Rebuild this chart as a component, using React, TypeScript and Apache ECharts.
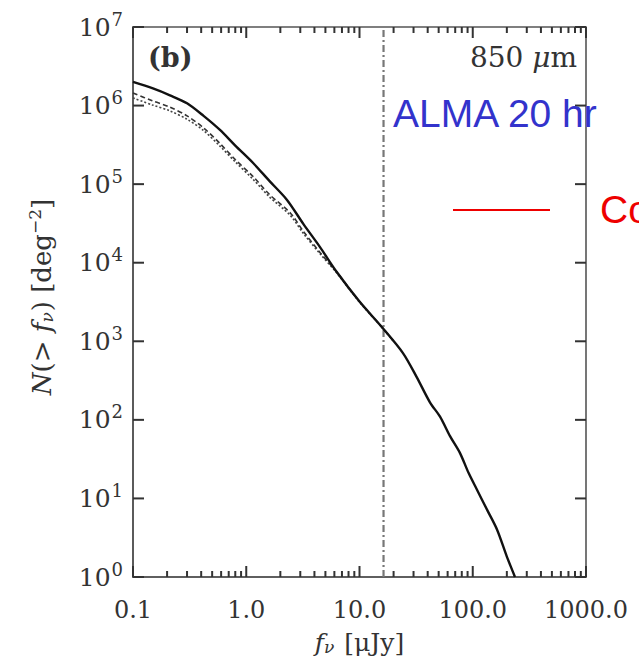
import React, { useEffect, useRef } from "react";
import * as echarts from "echarts";

// x tick labels (by decade exponent -1..3)
const xTickLabels = ["0.1", "1.0", "10.0", "100.0", "1000.0"];
const yExponents = ["0", "1", "2", "3", "4", "5", "6", "7"];

// Solid model curve: [flux μJy, N(>f) deg^-2]
const solidCurve: [number, number][] = [
  [0.1, 2.0e6], [0.15, 1.65e6], [0.212, 1.35e6], [0.3, 1.07e6], [0.42, 7.4e5],
  [0.586, 4.9e5], [0.8, 3.1e5], [1.15, 1.86e5], [1.6, 1.1e5], [2.29, 6.3e4],
  [3.2, 3.1e4], [4.48, 1.58e4], [6.3, 7.6e3], [10, 3.2e3], [15.8, 1.51e3],
  [24.2, 708], [32, 350], [42, 166], [51.4, 110], [63, 62], [77, 38],
  [92, 21], [109, 12.9], [135, 7.0], [164, 4.0], [200, 1.82], [236, 1.0],
];

// Dashed curve
const dashedCurve: [number, number][] = [
  [0.1, 1.45e6], [0.148, 1.15e6], [0.21, 9.6e5], [0.3, 7.4e5], [0.42, 5.2e5],
  [0.586, 3.3e5], [0.8, 2.05e5], [1.15, 1.25e5], [1.6, 7.4e4], [2.45, 4.3e4],
  [3.2, 2.5e4], [4.48, 1.35e4], [6.3, 7.6e3], [10, 3.2e3], [15.8, 1.51e3], [20, 1.0e3],
];

// Dotted curve
const dottedCurve: [number, number][] = [
  [0.1, 1.25e6], [0.148, 1.02e6], [0.21, 8.6e5], [0.3, 6.7e5], [0.42, 4.8e5],
  [0.586, 3.05e5], [0.8, 1.92e5], [1.15, 1.15e5], [1.6, 6.9e4], [2.45, 4.0e4],
  [3.2, 2.35e4], [4.48, 1.3e4], [6.3, 7.4e3], [10, 3.15e3], [15.8, 1.5e3], [20, 1.0e3],
];

// ALMA 20 hr detection limit (μJy)
const almaLimit = 16.3;

const xMin = 0.1;
const xMax = 1000;
const yMin = 1;
const yMax = 1e7;

const majorTickValues = [0.1, 1, 10, 100, 1000];
const yMajorTickValues = [1, 10, 100, 1e3, 1e4, 1e5, 1e6, 1e7];
const minorTickValues: number[] = [];
for (let k = -1; k <= 2; k++) {
  for (let m = 2; m <= 9; m++) minorTickValues.push(m * Math.pow(10, k));
}

const axisColor = "#555";
const tickColor = "#333";
const textColor = "#333";
const serif = "'DejaVu Serif', 'Liberation Serif', serif";
const sans = "'Liberation Sans', Arial, sans-serif";

export default function App() {
  const ref = useRef<HTMLDivElement>(null);

  useEffect(() => {
    if (!ref.current) return;
    const chart = echarts.init(ref.current, null, { renderer: "svg" });

    const xLabel = (v: number) => {
      const e = Math.round(Math.log10(v));
      return xTickLabels[e + 1] ?? "";
    };
    const yLabel = (v: number) => {
      const e = Math.round(Math.log10(v));
      return `{b|10}{s|${yExponents[e] ?? ""}}`;
    };

    // x-axis ticks (bottom and top), drawn through the axis scale
    const xTicks = {
      type: "custom",
      coordinateSystem: "cartesian2d",
      silent: true,
      clip: false,
      z: 20,
      data: [
        ...majorTickValues.map((v) => [v, 11]),
        ...minorTickValues.map((v) => [v, 6]),
      ],
      renderItem: (params: any, api: any) => {
        const v = api.value(0);
        const len = api.value(1);
        const pb = api.coord([v, yMin]);
        const pt = api.coord([v, yMax]);
        return {
          type: "group",
          children: [
            {
              type: "line",
              shape: { x1: pb[0], y1: pb[1], x2: pb[0], y2: pb[1] - len },
              style: { stroke: tickColor, lineWidth: 2 },
            },
            {
              type: "line",
              shape: { x1: pt[0], y1: pt[1], x2: pt[0], y2: pt[1] + len },
              style: { stroke: tickColor, lineWidth: 2 },
            },
          ],
        };
      },
    };

    // y-axis ticks (left and right)
    const yTicks = {
      type: "custom",
      coordinateSystem: "cartesian2d",
      silent: true,
      clip: false,
      z: 20,
      data: yMajorTickValues.map((v) => [xMin, v]),
      renderItem: (params: any, api: any) => {
        const v = api.value(1);
        const pl = api.coord([xMin, v]);
        const pr = api.coord([xMax, v]);
        return {
          type: "group",
          children: [
            {
              type: "line",
              shape: { x1: pl[0], y1: pl[1], x2: pl[0] + 11, y2: pl[1] },
              style: { stroke: tickColor, lineWidth: 2 },
            },
            {
              type: "line",
              shape: { x1: pr[0], y1: pr[1], x2: pr[0] - 11, y2: pr[1] },
              style: { stroke: tickColor, lineWidth: 2 },
            },
          ],
        };
      },
    };

    const option: any = {
      animation: false,
      backgroundColor: "#fff",
      grid: {
        left: 133,
        right: 53,
        top: 27,
        bottom: 91,
        show: true,
        borderColor: axisColor,
        borderWidth: 1.6,
        backgroundColor: "transparent",
      },
      xAxis: {
        type: "log",
        logBase: 10,
        min: xMin,
        max: xMax,
        axisLine: { show: true, onZero: false, lineStyle: { color: axisColor, width: 1.6 } },
        axisTick: { show: false },
        splitLine: { show: false },
        axisLabel: {
          formatter: xLabel,
          fontFamily: serif,
          fontSize: 24,
          color: textColor,
          margin: 21,
        },
        name: "{i|f}{sub|ν} [μJy]",
        nameLocation: "middle",
        nameGap: 52,
        nameTextStyle: {
          fontFamily: serif,
          fontSize: 25,
          color: textColor,
          rich: {
            i: { fontFamily: serif, fontSize: 25, fontStyle: "italic", color: textColor },
            sub: { fontFamily: serif, fontSize: 17, fontStyle: "italic", color: textColor, padding: [9, 2, 0, 0] },
          },
        },
      },
      yAxis: {
        type: "log",
        logBase: 10,
        min: yMin,
        max: yMax,
        axisLine: { show: true, onZero: false, lineStyle: { color: axisColor, width: 1.6 } },
        axisTick: { show: false },
        splitLine: { show: false },
        axisLabel: {
          formatter: yLabel,
          margin: 10,
          color: textColor,
          rich: {
            b: { fontFamily: serif, fontSize: 25, color: textColor },
            s: { fontFamily: serif, fontSize: 18, color: textColor, padding: [0, 0, 16, 1] },
          },
        },
      },
      series: [
        {
          type: "line",
          data: [[almaLimit, yMin], [almaLimit, yMax]],
          symbol: "none",
          lineStyle: { color: "#777", width: 2.2, type: [7, 3, 2, 3] },
          silent: true,
        },
        {
          type: "line",
          data: dottedCurve,
          symbol: "none",
          smooth: 0.3,
          lineStyle: { color: "#444", width: 1.6, type: [2, 2] },
          silent: true,
        },
        {
          type: "line",
          data: dashedCurve,
          symbol: "none",
          smooth: 0.3,
          lineStyle: { color: "#333", width: 1.6, type: [5, 3] },
          silent: true,
        },
        {
          type: "line",
          data: solidCurve,
          symbol: "none",
          smooth: 0.3,
          lineStyle: { color: "#111", width: 2.4, type: "solid" },
          silent: true,
          z: 5,
        },
        xTicks,
        yTicks,
      ],
      graphic: [
        {
          type: "text",
          x: 42,
          y: 297,
          rotation: Math.PI / 2,
          style: {
            text: "{i|N}(> {i|f}{sub|ν}) [deg{sup|−2}]",
            x: 0,
            y: 0,
            align: "center",
            verticalAlign: "middle",
            fill: textColor,
            font: `26px ${serif}`,
            rich: {
              i: { fontFamily: serif, fontSize: 26, fontStyle: "italic", fill: textColor },
              sub: { fontFamily: serif, fontSize: 17, fontStyle: "italic", fill: textColor, padding: [9, 1, 0, 0] },
              sup: { fontFamily: serif, fontSize: 17, fill: textColor, padding: [0, 0, 14, 0] },
            },
          },
        },
        {
          type: "text",
          x: 148,
          y: 44,
          style: { text: "(b)", font: `bold 27px ${serif}`, fill: textColor },
        },
        {
          type: "text",
          x: 577,
          y: 43,
          style: {
            text: "850 {i|μ}m",
            align: "right",
            font: `28px ${serif}`,
            fill: textColor,
            rich: { i: { fontFamily: serif, fontSize: 28, fontStyle: "italic", fill: textColor } },
          },
        },
        {
          type: "text",
          x: 393,
          y: 94,
          z: 100,
          style: { text: "ALMA 20 hr", font: `39px ${sans}`, fill: "#3333cc" },
        },
        {
          type: "line",
          shape: { x1: 453, y1: 210, x2: 550, y2: 210 },
          style: { stroke: "#ee0000", lineWidth: 2 },
        },
        {
          type: "text",
          x: 600,
          y: 190,
          style: { text: "Confusion limit", font: `39px ${sans}`, fill: "#ee0000" },
        },
      ],
    };

    chart.setOption(option);
    return () => chart.dispose();
  }, []);

  return (
    <div
      ref={ref}
      style={{ position: "absolute", left: 0, top: 0, width: 639, height: 668, background: "#fff" }}
    />
  );
}
